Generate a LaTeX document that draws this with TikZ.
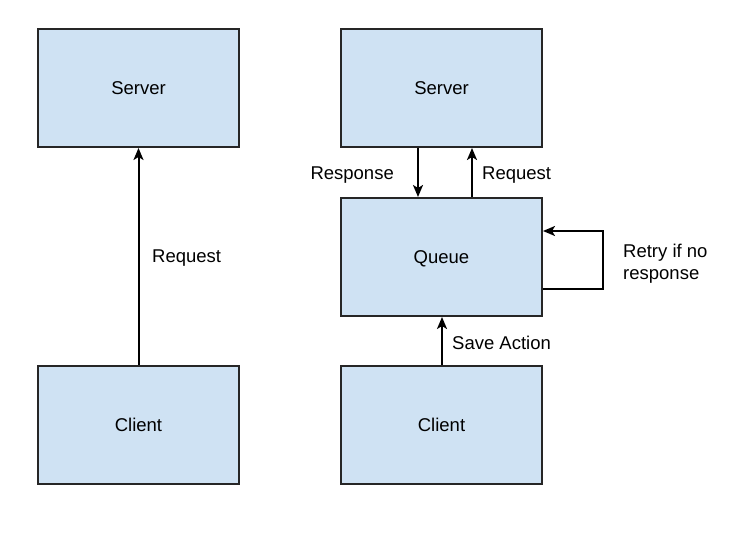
\documentclass[tikz,border=0pt]{standalone}
\usepackage{fontspec}
\setmainfont{Liberation Sans}
\usetikzlibrary{arrows.meta}
\definecolor{boxblue}{HTML}{CFE2F3}
\begin{document}
\begin{tikzpicture}[x=1pt,y=-1pt,
  box/.style={draw=black!85,line width=2pt,fill=boxblue,minimum width=201pt,minimum height=118pt,inner sep=0pt,text depth=0pt,font=\fontsize{18.5}{22}\selectfont},
  conn/.style={line width=2pt,-{Stealth[length=12pt,width=10pt,inset=3pt]}},
  lbl/.style={font=\fontsize{18.5}{22}\selectfont,inner sep=0pt}]
\useasboundingbox (0,0) rectangle (749,537);
\node[box] (ls) at (138.5,88) {Server};
\node[box] (lc) at (138.5,424.5) {Client};
\node[box] (rs) at (441.5,88) {Server};
\node[box] (q) at (441.5,257) {Queue};
\node[box] (rc) at (441.5,424.5) {Client};
\draw[conn] (lc.north) -- (ls.south);
\node[lbl,anchor=west] (lreq) at (152,258) {Request};
\draw[conn] (rs.south -| 418,0) -- (q.north -| 418,0);
\draw[conn] (q.north -| 472,0) -- (rs.south -| 472,0);
\node[lbl,anchor=east] (resp) at (394,175) {Response};
\node[lbl,anchor=west] (rreq) at (482,175) {Request};
\draw[conn] (rc.north -| 442,0) -- (q.south -| 442,0);
\node[lbl,anchor=west] (save) at (452,343) {Save Action};
\coordinate (r1) at (603,289);
\coordinate (r2) at (603,231);
\draw[conn] (q.east |- r1) -- (r1) -- (r2) -- (q.east |- r2);
\node[lbl,anchor=west,align=left] (retry) at (623,264) {Retry if no\\response};
\end{tikzpicture}
\end{document}
